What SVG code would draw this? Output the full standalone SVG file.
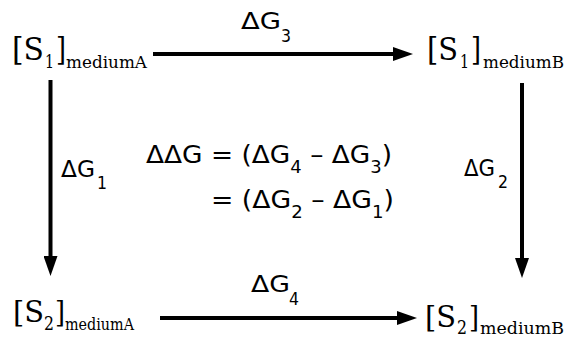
<svg xmlns="http://www.w3.org/2000/svg" width="567" height="339" viewBox="0 0 567 339">
<style>
.sf{font-family:"DejaVu Serif","Liberation Serif",serif;fill:#000}
.sa{font-family:"DejaVu Sans","Liberation Sans",sans-serif;fill:#000}
.c{stroke:#000;stroke-width:4;fill:none;marker-end:url(#ah)}
</style>
<defs>
<marker id="ah" markerUnits="userSpaceOnUse" markerWidth="20" markerHeight="14" refX="0" refY="7" orient="auto" viewBox="0 0 20 14">
<path d="M0,0 L20,7 L0,14 z" fill="#000"/>
</marker>
</defs>
<rect width="567" height="339" fill="#fff"/>
<g id="connectors">
<line class="c" x1="153" y1="54" x2="393" y2="54"/>
<line class="c" x1="50.5" y1="80" x2="50.5" y2="256"/>
<line class="c" x1="522" y1="83" x2="522" y2="258"/>
<line class="c" x1="160" y1="318" x2="397" y2="318"/>
</g>
<g id="n1">
<text class="sf" x="12" y="60" font-size="32" textLength="32" lengthAdjust="spacingAndGlyphs">[S</text>
<text class="sf" x="45" y="68" font-size="19" textLength="9" lengthAdjust="spacingAndGlyphs">1</text>
<text class="sf" x="56" y="60" font-size="32" textLength="10" lengthAdjust="spacingAndGlyphs">]</text>
<text class="sf" x="66" y="68" font-size="16" textLength="81" lengthAdjust="spacingAndGlyphs">mediumA</text>
</g>
<g id="n2">
<text class="sf" x="427" y="60" font-size="32" textLength="31" lengthAdjust="spacingAndGlyphs">[S</text>
<text class="sf" x="460" y="68" font-size="19" textLength="9" lengthAdjust="spacingAndGlyphs">1</text>
<text class="sf" x="471" y="60" font-size="32" textLength="10" lengthAdjust="spacingAndGlyphs">]</text>
<text class="sf" x="483" y="68" font-size="16" textLength="81" lengthAdjust="spacingAndGlyphs">mediumB</text>
</g>
<g id="n3">
<text class="sf" x="13" y="322" font-size="30" textLength="31" lengthAdjust="spacingAndGlyphs">[S</text>
<text class="sf" x="44" y="330" font-size="18" textLength="10" lengthAdjust="spacingAndGlyphs">2</text>
<text class="sf" x="55" y="322" font-size="30" textLength="10" lengthAdjust="spacingAndGlyphs">]</text>
<text class="sf" x="65" y="330" font-size="16" textLength="69" lengthAdjust="spacingAndGlyphs">mediumA</text>
</g>
<g id="n4">
<text class="sf" x="425" y="327" font-size="30" textLength="31" lengthAdjust="spacingAndGlyphs">[S</text>
<text class="sf" x="457" y="334" font-size="18" textLength="10" lengthAdjust="spacingAndGlyphs">2</text>
<text class="sf" x="469" y="327" font-size="30" textLength="10" lengthAdjust="spacingAndGlyphs">]</text>
<text class="sf" x="480" y="334" font-size="16" textLength="84" lengthAdjust="spacingAndGlyphs">mediumB</text>
</g>
<g id="l1">
<text class="sa" x="61" y="177" font-size="23" textLength="34" lengthAdjust="spacingAndGlyphs">ΔG</text>
<text class="sa" x="97" y="189" font-size="17" textLength="10" lengthAdjust="spacingAndGlyphs">1</text>
</g>
<g id="l2">
<text class="sa" x="464" y="176" font-size="23" textLength="31" lengthAdjust="spacingAndGlyphs">ΔG</text>
<text class="sa" x="498" y="188" font-size="17" textLength="10" lengthAdjust="spacingAndGlyphs">2</text>
</g>
<g id="l3">
<text class="sa" x="241" y="29" font-size="23" textLength="40" lengthAdjust="spacingAndGlyphs">ΔG</text>
<text class="sa" x="281" y="42" font-size="17" textLength="10" lengthAdjust="spacingAndGlyphs">3</text>
</g>
<g id="l4">
<text class="sa" x="251" y="292" font-size="23" textLength="39" lengthAdjust="spacingAndGlyphs">ΔG</text>
<text class="sa" x="289" y="305" font-size="17" textLength="10" lengthAdjust="spacingAndGlyphs">4</text>
</g>
<g id="equation">
<text class="sa" x="146" y="163" font-size="25" textLength="246" lengthAdjust="spacingAndGlyphs">ΔΔG = (ΔG<tspan font-size="17" dy="10">4</tspan><tspan dy="-10"> – ΔG</tspan><tspan font-size="17" dy="10">3</tspan><tspan dy="-10">)</tspan></text>
<text class="sa" x="211" y="208" font-size="25" textLength="183" lengthAdjust="spacingAndGlyphs">= (ΔG<tspan font-size="17" dy="10">2</tspan><tspan dy="-10"> – ΔG</tspan><tspan font-size="17" dy="10">1</tspan><tspan dy="-10">)</tspan></text>
</g>
</svg>
